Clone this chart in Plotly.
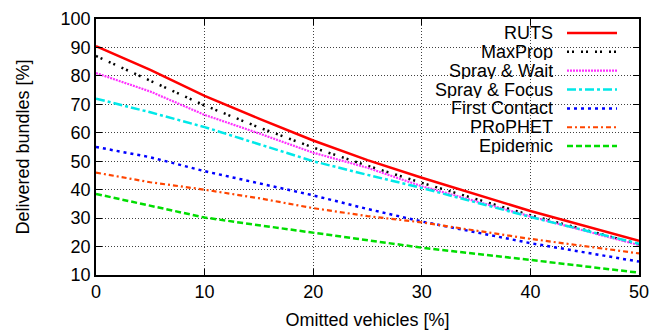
import plotly.graph_objects as go

omitted = [0, 5, 10, 15, 20, 25, 30, 40, 50]
ruts = [90.5, 82.1, 73.0, 65.0, 57.3, 50.4, 44.2, 32.5, 22.0]
maxprop = [87.0, 78.2, 69.6, 61.9, 54.8, 48.4, 42.4, 31.0, 20.8]
spray_wait = [81.0, 74.5, 66.3, 59.8, 53.0, 47.7, 41.2, 30.6, 20.5]
spray_focus = [72.0, 67.2, 62.0, 56.0, 50.0, 45.2, 40.6, 30.4, 21.0]
first_contact = [55.0, 51.4, 46.5, 42.2, 38.0, 33.2, 28.8, 21.2, 14.7]
prophet = [46.0, 42.6, 40.0, 37.0, 33.5, 30.7, 28.5, 22.7, 17.6]
epidemic = [38.5, 34.3, 30.2, 27.5, 24.8, 22.3, 19.6, 15.3, 10.8]

names = ["RUTS", "MaxProp", "Spray & Wait", "Spray & Focus", "First Contact", "PRoPHET", "Epidemic"]
series = [ruts, maxprop, spray_wait, spray_focus, first_contact, prophet, epidemic]
colors = ["#ff0000", "#000000", "#ff33ff", "#00e8e8", "#0000ff", "#ff4500", "#00dd00"]
dashes = ["solid", "2px,3px,2px,7px", "2px,1px", "9px,3px,3px,3px", "3px,4px", "5px,3px,2px,3px", "6px,3px"]
widths = [2.5, 2.5, 2.2, 2.5, 2.5, 2.2, 2.5]

FONT = "Liberation Sans, Arial, sans-serif"
FS = 18

fig = go.Figure()
for nm, ys, c, d, w in zip(names, series, colors, dashes, widths):
    fig.add_trace(go.Scatter(x=omitted, y=ys, mode="lines", name=nm,
                             line=dict(color=c, dash=d, width=w), showlegend=False))

L, R, T, B = 96, 13, 19, 55
W, H = 652, 330
pw, ph = W - L - R, H - T - B

def px2x(px):
    return (px - L) / pw

def py2y(py):
    return (H - B - py) / ph

shapes = [dict(type="rect", xref="paper", yref="paper", layer="between",
               x0=px2x(418), x1=px2x(626), y0=py2y(155), y1=1.0,
               fillcolor="white", line=dict(width=0))]
annotations = []
for i, (nm, c, d, w) in enumerate(zip(names, colors, dashes, widths)):
    yc = py2y(33 + i * 18.85)
    annotations.append(dict(x=px2x(555), y=yc, xref="paper", yref="paper", text=nm,
                            showarrow=False, xanchor="right", yanchor="middle", height=16,
                            font=dict(family=FONT, size=FS, color="black")))
    shapes.append(dict(type="line", xref="paper", yref="paper", layer="above",
                       x0=px2x(567), x1=px2x(617), y0=yc, y1=yc,
                       line=dict(color=c, dash=d, width=w)))

axis_common = dict(showline=True, linecolor="black", linewidth=1.5, mirror="ticks",
                   ticks="inside", ticklen=6, tickwidth=1, tickcolor="black",
                   showgrid=True, gridcolor="rgba(0,0,0,0.75)", griddash="1px,2px", gridwidth=1,
                   zeroline=False, automargin=False,
                   tickfont=dict(family=FONT, size=FS, color="black"))

fig.update_layout(
    width=W, height=H,
    margin=dict(l=L, r=R, t=T, b=B),
    paper_bgcolor="white", plot_bgcolor="white",
    xaxis=dict(range=[0, 50], dtick=10, title=dict(text="Omitted vehicles [%]", standoff=12,
               font=dict(family=FONT, size=FS, color="black")), **axis_common),
    yaxis=dict(range=[10, 100], dtick=10, title=dict(text="Delivered bundles [%]", standoff=26,
               font=dict(family=FONT, size=FS, color="black")), **axis_common),
    shapes=shapes, annotations=annotations,
)

fig.write_html("out.html")
